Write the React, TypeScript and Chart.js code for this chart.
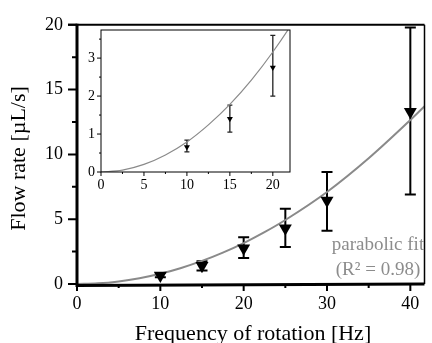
import React, { useEffect, useRef } from 'react';
import { Chart, registerables } from 'chart.js';
Chart.register(...registerables);

// ---- data ----
const freq = [10, 15, 20, 25, 30, 40];
const flow = [0.66, 1.4, 2.75, 4.3, 6.45, 13.3];
const errLow = [0.53, 1.05, 2.0, 2.86, 4.1, 6.9];
const errHigh = [0.84, 1.76, 3.6, 5.8, 8.65, 19.8];

const fitX = [0, 2.5, 5, 7.5, 10, 12.5, 15, 17.5, 20, 22.5, 25, 30, 35, 40, 42];
const fitY = [0, 0.05, 0.2, 0.45, 0.79, 1.24, 1.78, 2.42, 3.16, 4.0, 4.94, 7.1, 9.7, 12.65, 13.9];

const xMajor = [0, 10, 20, 30, 40];
const xMinor = [5, 15, 25, 35];
const yMajor = [0, 5, 10, 15, 20];
const yMinor = [2.5, 7.5, 12.5, 17.5];

const ixMajor = [0, 5, 10, 15, 20];
const ixMinor = [2.5, 7.5, 12.5, 17.5];
const iyMajor = [0, 1, 2, 3];
const iyMinor = [0.5, 1.5, 2.5, 3.5];

const xTitle = 'Frequency of rotation [Hz]';
const yTitle = 'Flow rate [µL/s]';
const fitLabel1 = 'parabolic fit';
const fitLabel2 = '(R² = 0.98)';

const SERIF = '"Liberation Serif", "Times New Roman", serif';

function drawErrorBars(chart: any, cap: number, lw: number, color: string) {
  const { ctx, scales } = chart;
  const x = scales.x, y = scales.y;
  ctx.save();
  ctx.strokeStyle = color;
  ctx.lineWidth = lw;
  freq.forEach((f, i) => {
    if (f < x.min || f > x.max) return;
    const px = x.getPixelForValue(f);
    const y1 = y.getPixelForValue(errLow[i]);
    const y2 = y.getPixelForValue(errHigh[i]);
    ctx.beginPath();
    ctx.moveTo(px, y1); ctx.lineTo(px, y2);
    ctx.moveTo(px - cap / 2, y1); ctx.lineTo(px + cap / 2, y1);
    ctx.moveTo(px - cap / 2, y2); ctx.lineTo(px + cap / 2, y2);
    ctx.stroke();
  });
  ctx.restore();
}

function drawTicks(chart: any, xs: number[], ys: number[], lenX: number, lenY: number, lw: number) {
  const { ctx, chartArea, scales } = chart;
  ctx.save();
  ctx.strokeStyle = '#000';
  ctx.lineWidth = lw;
  ctx.beginPath();
  xs.forEach((v) => {
    const px = scales.x.getPixelForValue(v);
    ctx.moveTo(px, chartArea.bottom);
    ctx.lineTo(px, chartArea.bottom + lenX);
  });
  ys.forEach((v) => {
    const py = scales.y.getPixelForValue(v);
    ctx.moveTo(chartArea.left, py);
    ctx.lineTo(chartArea.left - lenY, py);
  });
  ctx.stroke();
  ctx.restore();
}

const mainDecor = {
  id: 'mainDecor',
  beforeDatasetsDraw(chart: any) {
    drawErrorBars(chart, 11, 2, '#000');
  },
  afterDraw(chart: any) {
    const { ctx, chartArea: a } = chart;
    ctx.save();
    ctx.strokeStyle = '#000';
    ctx.lineWidth = 2;
    ctx.beginPath(); ctx.moveTo(a.left - 9, a.top); ctx.lineTo(a.right, a.top); ctx.stroke();
    ctx.lineWidth = 1.5;
    ctx.beginPath(); ctx.moveTo(a.right, a.top); ctx.lineTo(a.right, a.bottom); ctx.stroke();
    ctx.lineWidth = 3;
    ctx.beginPath(); ctx.moveTo(a.left, a.top - 1); ctx.lineTo(a.left, a.bottom + 1.5); ctx.lineTo(a.right, a.bottom); ctx.stroke();
    ctx.restore();
    drawTicks(chart, xMajor, yMajor, 7, 9, 2);
    drawTicks(chart, xMinor, yMinor, 4, 5, 2);
    ctx.save();
    ctx.fillStyle = '#000';
    ctx.font = `22px ${SERIF}`;
    ctx.textAlign = 'center';
    ctx.textBaseline = 'alphabetic';
    ctx.fillText(xTitle, 253, 339.5);
    ctx.translate(25, 158.5);
    ctx.rotate(-Math.PI / 2);
    ctx.fillText(yTitle, 0, 0);
    ctx.restore();
    ctx.save();
    ctx.fillStyle = '#8c8c8c';
    ctx.font = `19px ${SERIF}`;
    ctx.textAlign = 'center';
    ctx.textBaseline = 'middle';
    ctx.fillText(fitLabel1, 378, 245);
    ctx.fillText(fitLabel2, 378, 270);
    ctx.restore();
  },
};

const insetDecor = {
  id: 'insetDecor',
  beforeDraw(chart: any) {
    const { ctx, chartArea: a } = chart;
    ctx.save();
    ctx.fillStyle = '#fff';
    ctx.fillRect(a.left, a.top, a.right - a.left, a.bottom - a.top);
    ctx.restore();
  },
  beforeDatasetsDraw(chart: any) {
    drawErrorBars(chart, 5, 1.3, '#222');
  },
  afterDraw(chart: any) {
    const { ctx, chartArea: a } = chart;
    ctx.save();
    ctx.strokeStyle = '#000';
    ctx.lineWidth = 1;
    ctx.strokeRect(a.left, a.top, a.right - a.left, a.bottom - a.top);
    ctx.restore();
    drawTicks(chart, ixMajor, iyMajor, 4, 4, 1);
    drawTicks(chart, ixMinor, iyMinor, 2, 2, 1);
  },
};

export default function App() {
  const mainRef = useRef<HTMLCanvasElement>(null);
  const insetRef = useRef<HTMLCanvasElement>(null);

  useEffect(() => {
    const pts = freq.map((f, i) => ({ x: f, y: flow[i] }));
    const fit = fitX.map((f, i) => ({ x: f, y: fitY[i] }));

    const main = new Chart(mainRef.current as HTMLCanvasElement, {
      type: 'line',
      data: {
        datasets: [
          {
            data: pts,
            showLine: false,
            pointStyle: 'triangle',
            rotation: 180,
            pointRadius: 7.5,
            pointBackgroundColor: '#000',
            pointBorderWidth: 0,
            borderColor: '#000',
          },
          {
            data: fit,
            borderColor: '#8a8a8a',
            borderWidth: 2,
            pointRadius: 0,
            cubicInterpolationMode: 'monotone',
            fill: false,
          },
        ],
      },
      options: {
        responsive: false,
        animation: false,
        events: [],
        layout: { padding: { top: 18, right: 1, left: 0, bottom: 0 } },
        plugins: { legend: { display: false }, tooltip: { enabled: false } },
        scales: {
          x: {
            type: 'linear',
            min: 0,
            max: 41.7,
            grid: { display: false, drawTicks: false },
            border: { display: false },
            afterBuildTicks: (s: any) => { s.ticks = xMajor.map((v) => ({ value: v })); },
            afterFit: (s: any) => { s.height = 59; },
            ticks: { padding: 9, color: '#000', font: { family: SERIF, size: 18 }, maxRotation: 0, autoSkip: false },
          },
          y: {
            type: 'linear',
            min: 0,
            max: 20,
            grid: { display: false, drawTicks: false },
            border: { display: false },
            afterBuildTicks: (s: any) => { s.ticks = yMajor.map((v) => ({ value: v })); },
            afterFit: (s: any) => { s.width = 77; },
            ticks: { padding: 14, color: '#000', font: { family: SERIF, size: 18 } },
          },
        },
      },
      plugins: [mainDecor],
    } as any);

    const inset = new Chart(insetRef.current as HTMLCanvasElement, {
      type: 'line',
      data: {
        datasets: [
          {
            data: pts,
            showLine: false,
            pointStyle: 'triangle',
            rotation: 180,
            pointRadius: 3.5,
            pointBackgroundColor: '#000',
            pointBorderWidth: 0,
            borderColor: '#000',
          },
          {
            data: fit,
            borderColor: '#8a8a8a',
            borderWidth: 1.2,
            pointRadius: 0,
            cubicInterpolationMode: 'monotone',
            fill: false,
          },
        ],
      },
      options: {
        responsive: false,
        animation: false,
        events: [],
        layout: { padding: { top: 30, right: 142, left: 81, bottom: 149 } },
        plugins: { legend: { display: false }, tooltip: { enabled: false } },
        scales: {
          x: {
            type: 'linear',
            min: 0,
            max: 22,
            grid: { display: false, drawTicks: false },
            border: { display: false },
            afterBuildTicks: (s: any) => { s.ticks = ixMajor.map((v) => ({ value: v })); },
            afterFit: (s: any) => { s.height = 22; },
            ticks: { padding: 5, color: '#000', font: { family: SERIF, size: 14 }, maxRotation: 0, autoSkip: false },
          },
          y: {
            type: 'linear',
            min: 0,
            max: 3.74,
            grid: { display: false, drawTicks: false },
            border: { display: false },
            afterBuildTicks: (s: any) => { s.ticks = iyMajor.map((v) => ({ value: v })); },
            afterFit: (s: any) => { s.width = 20; },
            ticks: { padding: 6, color: '#000', font: { family: SERIF, size: 14 } },
          },
        },
      },
      plugins: [insetDecor],
    } as any);

    return () => {
      main.destroy();
      inset.destroy();
    };
  }, []);

  return (
    <div style={{ position: 'fixed', left: 0, top: 0, width: 432, height: 343, background: '#fff' }}>
      <canvas ref={mainRef} width={432} height={343} style={{ position: 'absolute', left: 0, top: 0 }} />
      <canvas ref={insetRef} width={432} height={343} style={{ position: 'absolute', left: 0, top: 0 }} />
    </div>
  );
}
